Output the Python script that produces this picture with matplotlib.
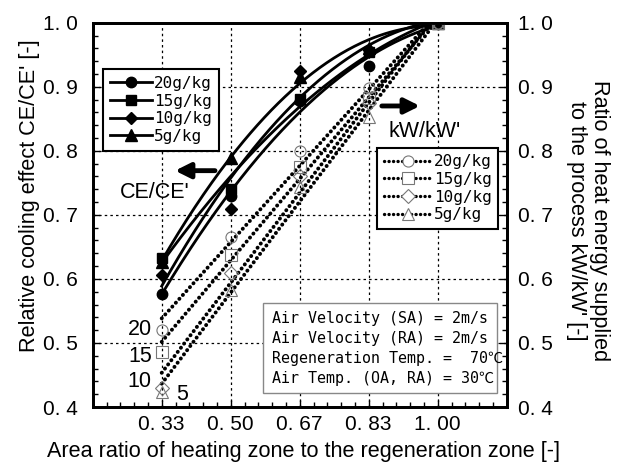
import numpy as np
import matplotlib
matplotlib.use("Agg")
import matplotlib.pyplot as plt
from matplotlib.lines import Line2D
from matplotlib.patches import Rectangle

# ---------------- data ----------------
area_ratio = [1/3, 1/2, 2/3, 5/6, 1.0]
x_tick_labels = ["0. 33", "0. 50", "0. 67", "0. 83", "1. 00"]
y_ticks = [0.4, 0.5, 0.6, 0.7, 0.8, 0.9, 1.0]
y_tick_labels = ["0. 4", "0. 5", "0. 6", "0. 7", "0. 8", "0. 9", "1. 0"]

series_names = ["20g/kg", "15g/kg", "10g/kg", "5g/kg"]
side_labels = ["20", "15", "10", "5"]

# Relative cooling effect CE/CE' (filled markers, solid curves)
ce_20 = [0.577, 0.729, 0.877, 0.932, 1.0]
ce_15 = [0.633, 0.740, 0.881, 0.954, 1.0]
ce_10 = [0.606, 0.709, 0.925, 0.957, 1.0]
ce_5 = [0.627, 0.789, 0.916, 0.960, 1.0]

# Ratio of heat energy kW/kW' (open markers, dotted lines)
kw_20 = [0.521, 0.665, 0.799, 0.898, 1.0]
kw_15 = [0.486, 0.638, 0.775, 0.882, 1.0]
kw_10 = [0.429, 0.610, 0.760, 0.874, 1.0]
kw_5 = [0.424, 0.583, 0.744, 0.853, 1.0]

ce_series = [ce_20, ce_15, ce_10, ce_5]
kw_series = [kw_20, kw_15, kw_10, kw_5]
markers = ["o", "s", "D", "^"]
msizes = [7.5, 7.5, 6.5, 8]

LABEL_FONT = "Liberation Sans"
NUM_SIZE = 15
MONO_FONT = "DejaVu Sans Mono"
DOT = (0, (0.05, 1.3))

fig = plt.figure(figsize=(6.18, 4.68), dpi=100)
ax = fig.add_axes([0.150, 0.1303, 0.670, 0.8212])
ax.set_xlim(1/6, 7/6)
ax.set_ylim(0.4, 1.0)

x = np.array(area_ratio)
xs = np.linspace(x[0], x[-1], 200)

# solid fitted curves + filled markers
for ys, m, ms in zip(ce_series, markers, msizes):
    c = np.polyfit(x, ys, 2)
    ax.plot(xs, np.polyval(c, xs), color="black", lw=2.0, zorder=3)
    ax.plot(x, ys, linestyle="none", marker=m, ms=ms, color="black", zorder=4)

# dotted fitted lines + open markers
for ys, m, ms in zip(kw_series, markers, msizes):
    c = np.polyfit(x, ys, 1)
    ax.plot(xs, np.polyval(c, xs), color="black", lw=2.8,
            linestyle=DOT, dash_capstyle="round", zorder=3)
    ax.plot(x, ys, linestyle="none", marker=m, ms=ms + 0.5, mfc="none",
            mec="#777777", mew=0.8, zorder=4)

# ticks / grid
ax.set_xticks(area_ratio)
ax.set_xticklabels(x_tick_labels, fontsize=NUM_SIZE, family=LABEL_FONT)
ax.set_xticks(np.arange(1/6, 7/6 + 1e-9, 1/30), minor=True)
ax.set_yticks(y_ticks)
ax.set_yticklabels(y_tick_labels, fontsize=NUM_SIZE, family=LABEL_FONT)
ax.set_yticks(np.arange(0.4, 1.0001, 0.02), minor=True)
ax.tick_params(which="both", direction="in", top=False, right=False, width=1)
ax.tick_params(which="major", length=5)
ax.tick_params(which="minor", length=3.5)
ax.tick_params(axis="y", pad=11)
ax.tick_params(axis="x", pad=6)
ax.grid(True, which="major", color="black", lw=0.9, linestyle=(0, (2, 2.5)))
for s in ax.spines.values():
    s.set_linewidth(2)

ax2 = ax.twinx()
ax2.set_ylim(0.4, 1.0)
ax2.set_yticks(y_ticks)
ax2.set_yticklabels(y_tick_labels, fontsize=NUM_SIZE, family=LABEL_FONT)
ax2.set_yticks(np.arange(0.4, 1.0001, 0.02), minor=True)
ax2.tick_params(which="both", direction="in", width=1, pad=8)
ax2.tick_params(which="major", length=5)
ax2.tick_params(which="minor", length=3.5)
for s in ax2.spines.values():
    s.set_linewidth(2)

# legends
h1 = [Line2D([], [], color="black", lw=2, marker=m, ms=ms) for m, ms in zip(markers, msizes)]
leg1 = ax.legend(h1, series_names, loc="upper left", bbox_to_anchor=(0.026, 0.879),
                 frameon=True, fancybox=False, edgecolor="black", framealpha=1,
                 prop={"family": MONO_FONT, "size": 11.5}, handlelength=2.6,
                 handletextpad=0.15, labelspacing=0.17, borderpad=0.42, borderaxespad=0)
leg1.get_frame().set_linewidth(1.5)
leg1.set_zorder(10)
ax.add_artist(leg1)

h2 = [Line2D([], [], color="black", lw=2.4, linestyle=DOT, dash_capstyle="round",
             marker=m, ms=ms + 0.5, mfc="white", mec="#777777", mew=0.8)
      for m, ms in zip(markers, msizes)]
leg2 = ax.legend(h2, series_names, loc="upper right", bbox_to_anchor=(0.980, 0.675),
                 frameon=True, fancybox=False, edgecolor="black", framealpha=1,
                 prop={"family": MONO_FONT, "size": 11.5}, handlelength=3.0,
                 handletextpad=0.15, labelspacing=0.17, borderpad=0.42, borderaxespad=0)
leg2.get_frame().set_linewidth(1.5)
leg2.set_zorder(10)

# condition box
ax.add_patch(Rectangle((0.412, 0.036), 0.565, 0.235, transform=ax.transAxes,
                       facecolor="white", edgecolor="#888888", lw=1.0, zorder=9))
cond = ("Air Velocity (SA) = 2m/s\n"
        "Air Velocity (RA) = 2m/s\n"
        "Regeneration Temp. =  70\u2103\n"
        "Air Temp. (OA, RA) = 30\u2103")
ax.text(0.432, 0.153, cond, transform=ax.transAxes, ha="left", va="center",
        family=[MONO_FONT, "Noto Sans CJK JP"], fontsize=10.8, linespacing=1.42, zorder=11)

# arrows and labels
ax.annotate("", xy=(0.3655, 0.769), xytext=(0.462, 0.769),
            arrowprops=dict(arrowstyle="-|>,head_length=0.9,head_width=0.45",
                            color="black", lw=3.5, shrinkA=0, shrinkB=0), zorder=6)
ax.text(0.317, 0.735, "CE/CE'", ha="center", va="center", fontsize=15.5, family=LABEL_FONT, zorder=6)
ax.annotate("", xy=(0.957, 0.870), xytext=(0.865, 0.870),
            arrowprops=dict(arrowstyle="-|>,head_length=0.9,head_width=0.45",
                            color="black", lw=3.5, shrinkA=0, shrinkB=0), zorder=6)
ax.text(0.969, 0.830, "kW/kW'", ha="center", va="center", fontsize=15.5, family=LABEL_FONT, zorder=6)

# series labels near x=0.33
side_pos = [(0.309, 0.521, "right"), (0.309, 0.4796, "right"),
            (0.309, 0.4395, "right"), (0.368, 0.4198, "left")]
for lab, (px, py, ha) in zip(side_labels, side_pos):
    ax.text(px, py, lab, ha=ha, va="center", fontsize=15.5, family=LABEL_FONT, zorder=6)

# axis labels
fig.text(0.491, 0.035, "Area ratio of heating zone to the regeneration zone [-]",
         ha="center", va="center", fontsize=15.6, family=LABEL_FONT)
fig.text(0.0485, 0.5823, "Relative cooling effect CE/CE' [-]", rotation=90,
         ha="center", va="center", fontsize=15.6, family=LABEL_FONT)
fig.text(0.9515, 0.5278, "Ratio of heat energy supplied\nto the process kW/kW' [-]",
         rotation=270, ha="center", va="center", multialignment="center",
         fontsize=15.6, family=LABEL_FONT, linespacing=1.1)

fig.savefig("out.png", dpi=100)
